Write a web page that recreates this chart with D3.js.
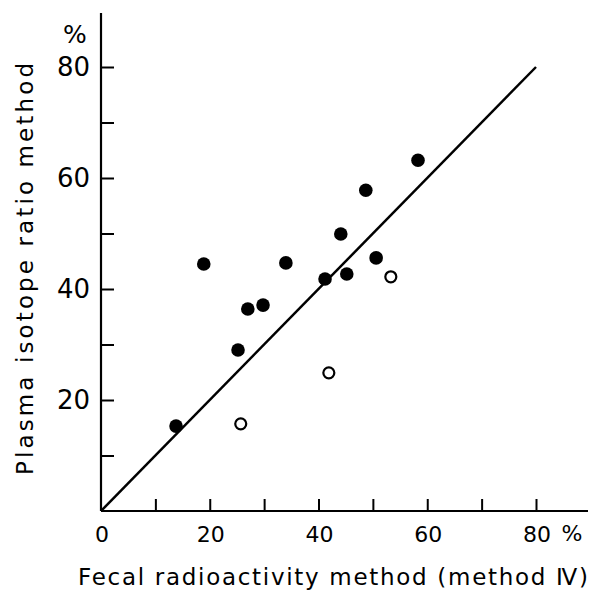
<!DOCTYPE html>
<html>
<head>
<meta charset="utf-8">
<script src="https://cdn.jsdelivr.net/npm/d3@7"></script>
<style>
  body { margin: 0; background: #fff; }
  text { font-family: "DejaVu Sans", "Liberation Sans", sans-serif; fill: #000; }
</style>
</head>
<body>
<div id="chart"></div>
<script>
// fecal radioactivity (method IV) vs plasma isotope ratio, in %
const filledX = [13.8, 18.9, 25.2, 27.0, 29.8, 34.0, 41.2, 44.1, 45.2, 48.7, 50.6, 58.3];
const filledY = [15.3, 44.5, 29.0, 36.4, 37.1, 44.7, 41.8, 49.9, 42.7, 57.8, 45.6, 63.2];
const openX = [25.7, 41.9, 53.3];
const openY = [15.7, 24.9, 42.2];
const identityLine = [[0, 0], [80, 80]];
const xTicks = [10, 20, 30, 40, 50, 60, 70, 80];
const xLabels = [0, 20, 40, 60, 80];
const yTicks = [10, 20, 30, 40, 50, 60, 70, 80];
const yLabels = [20, 40, 60, 80];

const width = 591, height = 590;

const svg = d3.select("#chart").append("svg")
    .attr("width", width)
    .attr("height", height);

const x = d3.scaleLinear().domain([0, 80]).range([101, 536]);
const y = d3.scaleLinear().domain([0, 80]).range([511, 67]);

// axis lines (go past the last tick like in the print)
svg.append("line")
    .attr("x1", x(0)).attr("x2", 588)
    .attr("y1", y(0)).attr("y2", y(0))
    .attr("stroke", "#000").attr("stroke-width", 2.2);
svg.append("line")
    .attr("x1", x(0)).attr("x2", x(0))
    .attr("y1", y(0)).attr("y2", 13)
    .attr("stroke", "#000").attr("stroke-width", 2.2);

// x ticks
const xAxis = d3.axisBottom(x)
    .tickValues(xTicks)
    .tickSizeInner(-12)
    .tickSizeOuter(0)
    .tickFormat("");
svg.append("g")
    .attr("transform", `translate(0,${y(0)})`)
    .call(xAxis)
    .call(g => g.select(".domain").remove())
    .call(g => g.selectAll(".tick line").attr("stroke-width", 2));

svg.append("g").selectAll("text")
    .data(xLabels)
    .join("text")
    .attr("x", d => x(d) + 1)
    .attr("y", 542)
    .attr("text-anchor", "middle")
    .attr("font-size", 22)
    .text(d => d);

svg.append("text")
    .attr("x", 572).attr("y", 541)
    .attr("text-anchor", "middle")
    .attr("font-size", 22)
    .text("%");

// y ticks
const yAxis = d3.axisLeft(y)
    .tickValues(yTicks)
    .tickSizeInner(-13)
    .tickSizeOuter(0)
    .tickFormat("");
svg.append("g")
    .attr("transform", `translate(${x(0)},0)`)
    .call(yAxis)
    .call(g => g.select(".domain").remove())
    .call(g => g.selectAll(".tick line").attr("stroke-width", 2));

svg.append("g").selectAll("text")
    .data(yLabels)
    .join("text")
    .attr("x", 90)
    .attr("y", d => y(d))
    .attr("dy", "0.36em")
    .attr("text-anchor", "end")
    .attr("font-size", 26)
    .text(d => d);

svg.append("text")
    .attr("x", 75).attr("y", 43)
    .attr("text-anchor", "middle")
    .attr("font-size", 25)
    .text("%");

// axis titles
svg.append("text")
    .attr("x", 78).attr("y", 585)
    .attr("font-size", 23)
    .attr("textLength", 510)
    .attr("lengthAdjust", "spacing")
    .text("Fecal radioactivity method (method Ⅳ)");

svg.append("text")
    .attr("transform", "translate(33,269) rotate(-90)")
    .attr("text-anchor", "middle")
    .attr("font-size", 23)
    .attr("textLength", 412)
    .attr("lengthAdjust", "spacing")
    .text("Plasma isotope ratio method");

// identity line
const line = d3.line()
    .x(d => x(d[0]))
    .y(d => y(d[1]));
svg.append("path")
    .datum(identityLine)
    .attr("d", line)
    .attr("fill", "none")
    .attr("stroke", "#000")
    .attr("stroke-width", 2.5);

// filled points
svg.append("g").selectAll("circle")
    .data(d3.zip(filledX, filledY))
    .join("circle")
    .attr("cx", d => x(d[0]))
    .attr("cy", d => y(d[1]))
    .attr("r", 6.8)
    .attr("fill", "#000");

// open points
svg.append("g").selectAll("circle")
    .data(d3.zip(openX, openY))
    .join("circle")
    .attr("cx", d => x(d[0]))
    .attr("cy", d => y(d[1]))
    .attr("r", 5.5)
    .attr("fill", "#fff")
    .attr("stroke", "#000")
    .attr("stroke-width", 2.2);
</script>
</body>
</html>
